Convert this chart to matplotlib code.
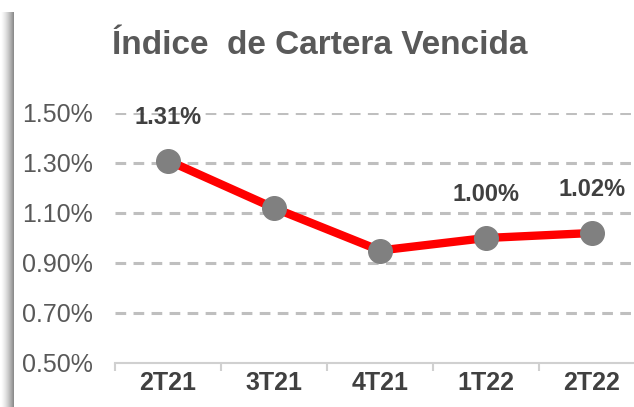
import matplotlib
matplotlib.use("Agg")
import matplotlib.pyplot as plt
from matplotlib.patches import Rectangle
import numpy as np

# datos
periodos = ["2T21", "3T21", "4T21", "1T22", "2T22"]
indice = [1.31, 1.12, 0.95, 1.00, 1.02]
etiquetas = ["1.31%", "", "", "1.00%", "1.02%"]
yticks = [0.50, 0.70, 0.90, 1.10, 1.30, 1.50]

plt.rcParams['font.family'] = ['Liberation Sans Narrow', 'Liberation Sans', 'DejaVu Sans']

W, H = 634, 407
fig = plt.figure(figsize=(W / 100, H / 100), dpi=100)

# sombra izquierda
for i in range(14):
    g = 1.0 - 0.45 * (i / 13) ** 1.5
    fig.patches.append(Rectangle((i / W, 0), 1 / W, (H - 12) / H, transform=fig.transFigure,
                                 facecolor=(g, g, g), edgecolor='none'))

# eje: x de 115 a 645 px, y de 363 (0.50) a 113 (1.50)
ax = fig.add_axes([115 / W, (H - 363) / H, 530 / W, 250 / H])
x = np.arange(len(periodos))
ax.plot(x, indice, color='#ff0000', lw=6, solid_capstyle='butt', zorder=3)
ax.plot(x, indice, 'o', color='#808080', ms=17, zorder=4)

for xi, v, t in zip(x, indice, etiquetas):
    if t:
        ax.annotate(t, (xi, v), xytext=(0, 31), textcoords='offset points',
                    ha='center', va='center', fontsize=17, fontweight='bold', color='#404040', zorder=5)

ax.set_xlim(-0.5, 4.5)
ax.set_ylim(0.50, 1.50)
ax.set_yticks(yticks)
ax.set_yticklabels([f"{v:.2f}%" for v in yticks], fontsize=18, color='#595959')
ax.set_xticks(x)
ax.set_xticklabels(periodos, fontsize=18, fontweight='bold', color='#404040')
ax.set_xticks(np.arange(-0.5, 5, 1), minor=True)
ax.tick_params(axis='x', which='major', length=0, pad=6)
ax.tick_params(axis='x', which='minor', length=6, color='#d0d0d0', width=1.5)
ax.tick_params(axis='y', length=0, pad=16)

for v in yticks[1:]:
    ax.axhline(v, color='#bfbfbf', lw=2.2, dashes=(3.5, 2.4), zorder=1)

for s in ['top', 'right', 'left']:
    ax.spines[s].set_visible(False)
ax.spines['bottom'].set_color('#d0d0d0')
ax.spines['bottom'].set_linewidth(1.5)

fig.text(320 / W, 1 - 45 / H, "Índice  de Cartera Vencida", ha='center', va='center',
         fontsize=24, fontweight='bold', color='#595959')

fig.savefig("out.png", dpi=100)
